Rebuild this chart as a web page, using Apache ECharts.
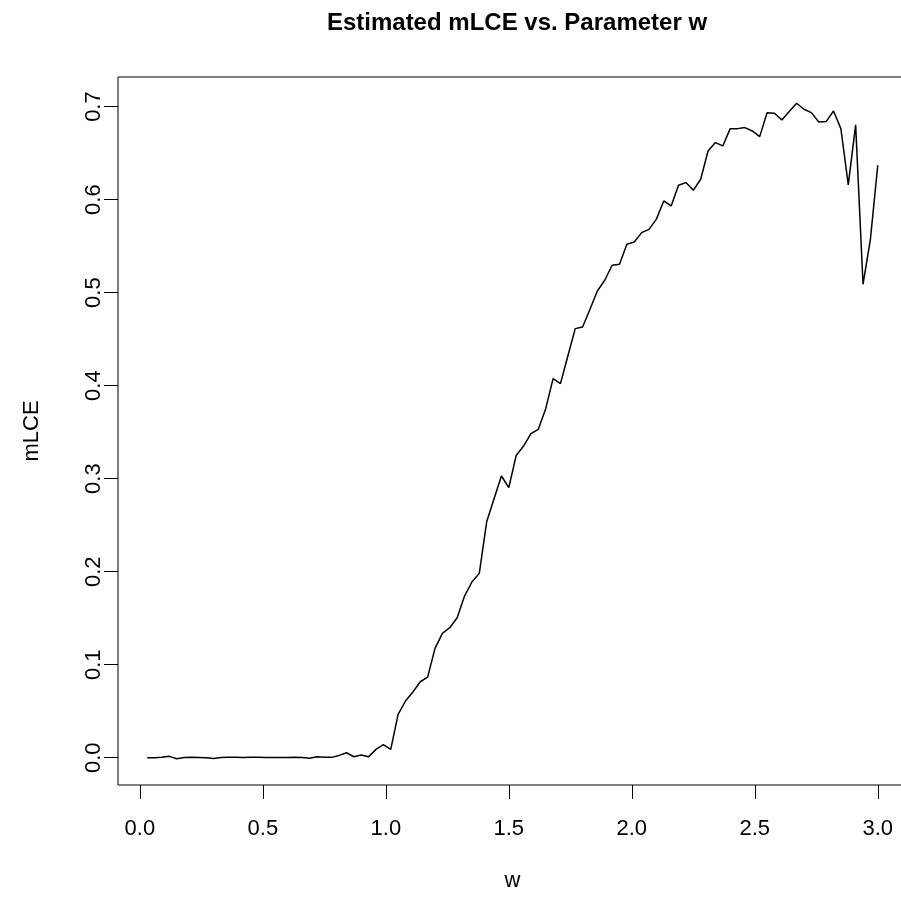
<!DOCTYPE html>
<html>
<head>
<meta charset="utf-8">
<script src="https://cdn.jsdelivr.net/npm/echarts@6/dist/echarts.min.js"></script>
<style>
html,body{margin:0;padding:0;background:#fff;}
#chart{width:901px;height:897px;}
</style>
</head>
<body>
<div id="chart"></div>
<script>
var titleText = 'Estimated mLCE vs. Parameter w';
var xName = 'w';
var yName = 'mLCE';
var xTicks = [0, 0.5, 1.0, 1.5, 2.0, 2.5, 3.0];
var yTicks = [0, 0.1, 0.2, 0.3, 0.4, 0.5, 0.6, 0.7];
var wValues = [
  0.03,0.06,0.09,0.12,0.15,0.18,0.21,0.24,0.27,0.30,
  0.33,0.36,0.39,0.42,0.45,0.48,0.51,0.54,0.57,0.60,
  0.63,0.66,0.69,0.72,0.75,0.78,0.81,0.84,0.87,0.90,
  0.93,0.96,0.99,1.02,1.05,1.08,1.11,1.14,1.17,1.20,
  1.23,1.26,1.29,1.32,1.35,1.38,1.41,1.44,1.47,1.50,
  1.53,1.56,1.59,1.62,1.65,1.68,1.71,1.74,1.77,1.80,
  1.83,1.86,1.89,1.92,1.95,1.98,2.01,2.04,2.07,2.10,
  2.13,2.16,2.19,2.22,2.25,2.28,2.31,2.34,2.37,2.40,
  2.43,2.46,2.49,2.52,2.55,2.58,2.61,2.64,2.67,2.70,
  2.73,2.76,2.79,2.82,2.85,2.88,2.91,2.94,2.97,3.00
];
var mlceValues = [
  0.0000,0.0000,0.0005,0.0015,-0.0011,0.0003,0.0005,0.0003,0.0000,-0.0007,
  0.0003,0.0004,0.0005,0.0002,0.0005,0.0006,0.0003,0.0003,0.0003,0.0003,
  0.0004,0.0002,-0.0006,0.0010,0.0004,0.0004,0.0025,0.0054,0.0011,0.0029,
  0.0011,0.0090,0.0140,0.0090,0.0466,0.0610,0.0706,0.0817,0.0867,0.1176,
  0.1337,0.1398,0.1505,0.1738,0.1889,0.1982,0.2536,0.2785,0.3029,0.2903,
  0.3250,0.3351,0.3484,0.3530,0.3753,0.4075,0.4022,0.4319,0.4613,0.4631,
  0.4821,0.5018,0.5133,0.5294,0.5305,0.5520,0.5545,0.5645,0.5680,0.5790,
  0.5986,0.5932,0.6154,0.6183,0.6100,0.6219,0.6523,0.6613,0.6577,0.6763,
  0.6763,0.6774,0.6738,0.6677,0.6935,0.6928,0.6857,0.6946,0.7036,0.6971,
  0.6935,0.6835,0.6839,0.6953,0.6763,0.6158,0.6803,0.5090,0.5573,0.6369
];

var seriesData = wValues.map(function (w, i) { return [w, mlceValues[i]]; });
var FONT = '"Liberation Sans", Arial, Helvetica, sans-serif';

var chart = echarts.init(document.getElementById('chart'), null, {renderer: 'canvas'});
chart.setOption({
  backgroundColor: '#ffffff',
  animation: false,
  title: {
    text: titleText,
    left: 512,
    top: 6,
    textAlign: 'center',
    textStyle: {fontFamily: FONT, fontWeight: 'bold', fontSize: 24, color: '#000'}
  },
  grid: {
    left: 118, top: 77, width: 789, height: 708,
    show: true, borderColor: '#000', borderWidth: 1, backgroundColor: 'transparent',
    containLabel: false,
    outerBoundsMode: 'none'
  },
  xAxis: {
    type: 'value',
    min: -0.0888, max: 3.1188,
    name: xName, nameLocation: 'middle', nameGap: 85, nameMoveOverlap: false,
    nameTextStyle: {fontFamily: FONT, fontSize: 22, color: '#000'},
    axisLine: {show: false, onZero: false},
    axisTick: {show: true, inside: false, length: 14, customValues: xTicks,
      lineStyle: {color: '#000', width: 1}},
    axisLabel: {show: true, margin: 33, customValues: xTicks,
      fontFamily: FONT, fontSize: 22, color: '#000',
      formatter: function (v) { return v.toFixed(1); }},
    splitLine: {show: false}
  },
  yAxis: {
    type: 'value',
    min: -0.0293, max: 0.7318,
    name: yName, nameLocation: 'middle', nameGap: 75, nameRotate: 90, nameMoveOverlap: false,
    nameTextStyle: {fontFamily: FONT, fontSize: 22, color: '#000'},
    axisLine: {show: false, onZero: false},
    axisTick: {show: true, inside: false, length: 14, customValues: yTicks,
      lineStyle: {color: '#000', width: 1}},
    axisLabel: {show: true, margin: 13, rotate: 90, customValues: yTicks,
      fontFamily: FONT, fontSize: 22, color: '#000',
      formatter: function (v) { return v.toFixed(1); }},
    splitLine: {show: false}
  },
  series: [{
    type: 'line',
    data: seriesData,
    showSymbol: false,
    symbol: 'none',
    lineStyle: {color: '#000', width: 1.5},
    clip: false
  }]
});
</script>
</body>
</html>
